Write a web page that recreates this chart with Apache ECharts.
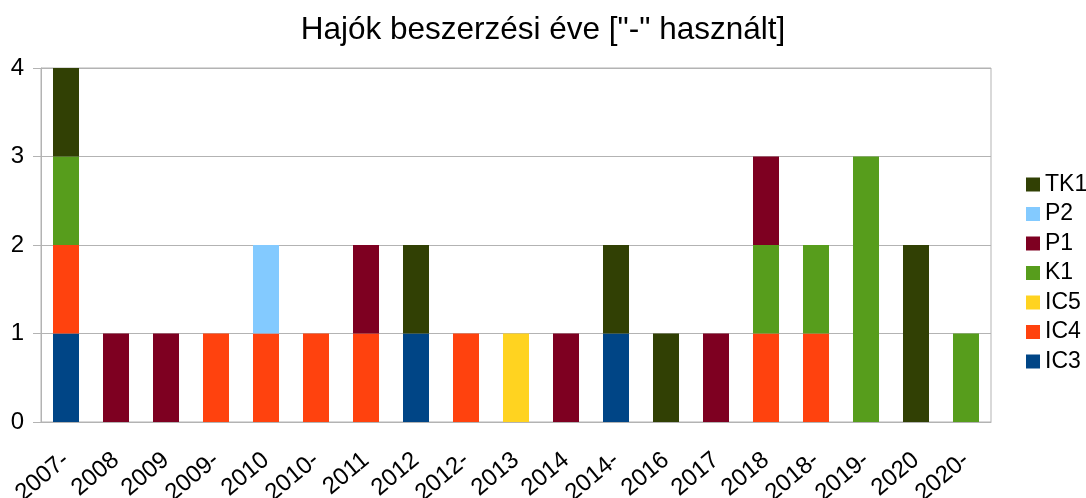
<!DOCTYPE html>
<html>
<head>
<meta charset="utf-8">
<script src="https://cdn.jsdelivr.net/npm/echarts@6/dist/echarts.min.js"></script>
<style>
  html, body { margin: 0; padding: 0; background: #fff; }
  #chart { width: 1086px; height: 498px; }
</style>
</head>
<body>
<div id="chart"></div>
<script>
// years ("-" = used ship)
var years = ['2007-', '2008', '2009', '2009-', '2010', '2010-', '2011', '2012', '2012-', '2013',
  '2014', '2014-', '2016', '2017', '2018', '2018-', '2019-', '2020', '2020-'];

// counts per class, stacked bottom to top
var ic3 = [1, 0, 0, 0, 0, 0, 0, 1, 0, 0, 0, 1, 0, 0, 0, 0, 0, 0, 0];
var ic4 = [1, 0, 0, 1, 1, 1, 1, 0, 1, 0, 0, 0, 0, 0, 1, 1, 0, 0, 0];
var ic5 = [0, 0, 0, 0, 0, 0, 0, 0, 0, 1, 0, 0, 0, 0, 0, 0, 0, 0, 0];
var k1  = [1, 0, 0, 0, 0, 0, 0, 0, 0, 0, 0, 0, 0, 0, 1, 1, 3, 0, 1];
var p1  = [0, 1, 1, 0, 0, 0, 1, 0, 0, 0, 1, 0, 0, 1, 1, 0, 0, 0, 0];
var p2  = [0, 0, 0, 0, 1, 0, 0, 0, 0, 0, 0, 0, 0, 0, 0, 0, 0, 0, 0];
var tk1 = [1, 0, 0, 0, 0, 0, 0, 1, 0, 0, 0, 1, 1, 0, 0, 0, 0, 2, 0];

var yTicks = [0, 1, 2, 3, 4];

var font = 'Liberation Sans, Arial, sans-serif';

function bar(name, data, color) {
  return {
    name: name,
    type: 'bar',
    stack: 'all',
    barWidth: '52%',
    itemStyle: { color: color },
    data: data.map(function (v) { return v === 0 ? '-' : v; })
  };
}

document.addEventListener("DOMContentLoaded", () => {
  echarts.init(document.querySelector("#chart")).setOption({
    animation: false,
    title: {
      text: 'Hajók beszerzési éve ["-" használt]',
      left: 'center',
      top: 9,
      textStyle: { fontFamily: font, fontSize: 31.5, fontWeight: 'normal', color: '#000' }
    },
    legend: {
      orient: 'vertical',
      left: 1021,
      top: 168,
      itemWidth: 14,
      itemHeight: 14,
      itemGap: 6.5,
      icon: 'rect',
      data: ['TK1', 'P2', 'P1', 'K1', 'IC5', 'IC4', 'IC3'],
      textStyle: { fontFamily: font, fontSize: 23, color: '#000' }
    },
    grid: {
      left: 41,
      right: 95,
      top: 68,
      bottom: 76,
      outerBoundsMode: 'none',
      show: true,
      borderColor: '#b3b3b3',
      borderWidth: 1
    },
    xAxis: {
      type: 'category',
      data: years,
      axisLine: { lineStyle: { color: '#b3b3b3' } },
      axisTick: { length: 8, lineStyle: { color: '#b3b3b3' } },
      axisLabel: {
        rotate: 40,
        interval: 0,
        margin: 35,
        fontFamily: font,
        fontSize: 24,
        color: '#000'
      }
    },
    yAxis: {
      type: 'value',
      min: yTicks[0],
      max: yTicks[yTicks.length - 1],
      interval: 1,
      axisLine: { show: true, lineStyle: { color: '#b3b3b3' } },
      axisTick: { show: true, length: 8, lineStyle: { color: '#b3b3b3' } },
      splitLine: { lineStyle: { color: '#b3b3b3' } },
      axisLabel: { fontFamily: font, fontSize: 24, color: '#000', margin: 17 }
    },
    series: [
      bar('IC3', ic3, '#004586'),
      bar('IC4', ic4, '#ff420e'),
      bar('IC5', ic5, '#ffd320'),
      bar('K1', k1, '#579d1c'),
      bar('P1', p1, '#7e0021'),
      bar('P2', p2, '#83caff'),
      bar('TK1', tk1, '#314004')
    ]
  });
});
</script>
</body>
</html>
